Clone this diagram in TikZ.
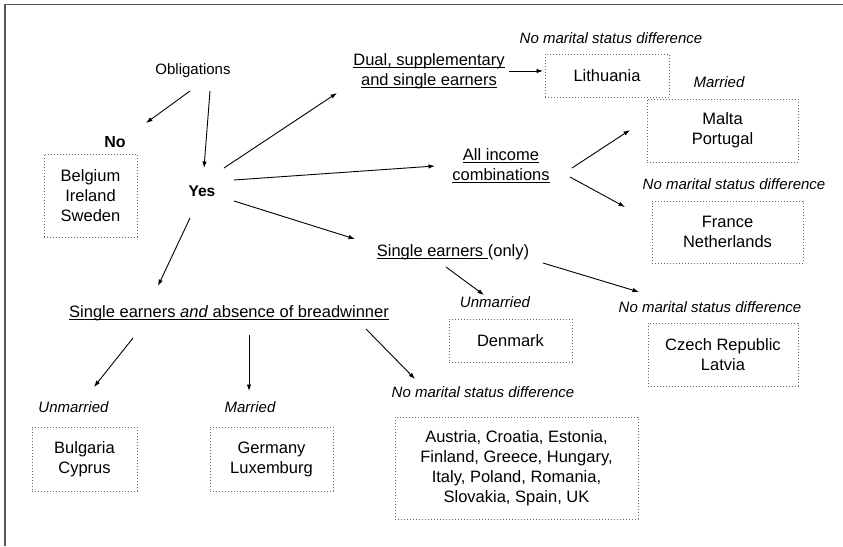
\documentclass[tikz,border=0pt]{standalone}
\usepackage{fontspec}
\setmainfont{Liberation Sans}
\usetikzlibrary{arrows.meta}
\newcommand{\undl}[1]{\setbox0=\hbox{#1}\rlap{\rule[-2.8pt]{\wd0}{0.9pt}}\box0}
\tikzset{
  txt/.style={font=\fontsize{16.5}{20}\selectfont, align=center, inner sep=0pt},
  lbl/.style={font=\fontsize{15}{18}\selectfont\itshape, inner sep=0pt},
  cbox/.style={txt, draw=black!60, line width=1pt, dash pattern=on 1pt off 2pt},
}
\begin{document}
\begin{tikzpicture}[x=1pt, y=-1pt, >={Latex[length=6.5pt,width=4.5pt]}, line width=0.9pt]
  \useasboundingbox (0,0) rectangle (843,546);
  \draw[black!65, line width=1.5pt] (5,546) -- (5,4.5) -- (843,4.5);
  % top of the tree
  \node[txt, font=\fontsize{15}{18}\selectfont] (obl) at (193,71) {Obligations};
  \node[txt, font=\fontsize{16}{20}\selectfont\bfseries] (no) at (115,142) {No};
  \node[cbox, minimum width=93pt, minimum height=83pt] (nobox) at (90.5,195.5) {Belgium\\Ireland\\Sweden};
  \node[txt, font=\fontsize{15.5}{20}\selectfont\bfseries] (yes) at (202,191) {Yes};
  % right branches
  \node[txt] (dual) at (429,71) {\undl{Dual, supplementary}\\\undl{and single earners}};
  \node[lbl] (lithlbl) at (611,38) {No marital status difference};
  \node[cbox, minimum width=124pt, minimum height=43pt] (lith) at (607,75.5) {Lithuania};
  \node[txt] (all) at (501,166) {\undl{All income}\\\undl{combinations}};
  \node[lbl] (maltalbl) at (719,82) {Married};
  \node[cbox, minimum width=151pt, minimum height=63pt] (malta) at (722.5,130.5) {Malta\\Portugal};
  \node[lbl] (francelbl) at (734,184) {No marital status difference};
  \node[cbox, minimum width=151pt, minimum height=62pt] (france) at (727.5,232) {France\\Netherlands};
  \node[txt] (single) at (453,252) {\undl{Single earners\ }(only)};
  \node[lbl] (denlbl) at (495,302) {Unmarried};
  \node[cbox, minimum width=123pt, minimum height=43pt] (den) at (510.5,340.5) {Denmark};
  \node[lbl] (czlbl) at (710,307) {No marital status difference};
  \node[cbox, minimum width=150pt, minimum height=63pt] (cz) at (723,354.5) {Czech Republic\\Latvia};
  % lower branch
  \node[txt] (seab) at (229,313) {\undl{Single earners \textit{and} absence of breadwinner}};
  \node[lbl] (bullbl) at (73.5,407) {Unmarried};
  \node[cbox, minimum width=105pt, minimum height=64pt] (bul) at (84.5,459) {Bulgaria\\Cyprus};
  \node[lbl] (gerlbl) at (250,407) {Married};
  \node[cbox, minimum width=123pt, minimum height=64pt] (ger) at (271.5,459) {Germany\\Luxemburg};
  \node[lbl] (auslbl) at (483,392) {No marital status difference};
  \node[cbox, minimum width=243pt, minimum height=102pt] (aus) at (516.5,468) {Austria, Croatia, Estonia,\\Finland, Greece, Hungary,\\Italy, Poland, Romania,\\Slovakia, Spain, UK};
  % arrows
  \draw[->] ([shift={(-3,20)}]obl.center) -- ([shift={(31,-19)}]no.center);
  \draw[->] ([shift={(17,20)}]obl.center) -- ([shift={(2,-23)}]yes.center);
  \draw[->] ([shift={(22,-23)}]yes.center) -- ([shift={(-92,22)}]dual.center);
  \draw[->] ([shift={(32,-11)}]yes.center) -- ([shift={(-66,0)}]all.center);
  \draw[->] ([shift={(32,10)}]yes.center) -- ([shift={(-98,-13)}]single.center);
  \draw[->] ([shift={(-12,27)}]yes.center) -- ([shift={(-71,-27)}]seab.center);
  \draw[->] ([shift={(80,0)}]dual.center) -- ([shift={(-64,-4.5)}]lith.center);
  \draw[->] ([shift={(71,2)}]all.center) -- ([shift={(-92.5,-0.5)}]malta.center);
  \draw[->] ([shift={(69,11)}]all.center) -- ([shift={(-102.5,-25)}]france.center);
  \draw[->] ([shift={(-7,15)}]single.center) -- ([shift={(-11,-7)}]denlbl.center);
  \draw[->] ([shift={(90,11)}]single.center) -- ([shift={(-71,-15)}]czlbl.center);
  \draw[->] ([shift={(-96,25)}]seab.center) -- ([shift={(20.5,-20)}]bullbl.center);
  \draw[->] ([shift={(20,22)}]seab.center) -- ([shift={(-1,-16)}]gerlbl.center);
  \draw[->] ([shift={(137,16)}]seab.center) -- ([shift={(-68,-13)}]auslbl.center);
\end{tikzpicture}
\end{document}
